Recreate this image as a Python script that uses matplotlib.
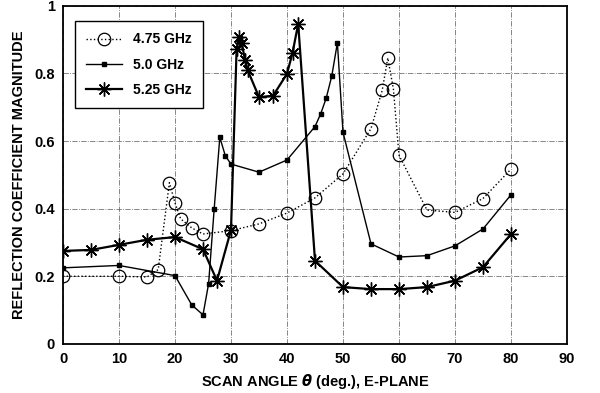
import matplotlib
matplotlib.use('Agg')
import matplotlib.pyplot as plt

# valeurs
ang_475 = [0, 10, 15, 17, 19, 20, 21, 23, 25, 30, 35, 40, 45, 50, 55, 57, 58, 59, 60, 65, 70, 75, 80]
ref_475 = [0.20, 0.20, 0.198, 0.22, 0.477, 0.417, 0.37, 0.343, 0.325, 0.335, 0.355, 0.387, 0.432,
           0.503, 0.637, 0.75, 0.846, 0.754, 0.558, 0.396, 0.389, 0.43, 0.517]

ang_50 = [0, 10, 20, 23, 25, 26, 27, 28, 29, 30, 35, 40, 45, 46, 47, 48, 49, 50, 55, 60, 65, 70, 75, 80]
ref_50 = [0.225, 0.232, 0.202, 0.115, 0.086, 0.178, 0.40, 0.611, 0.556, 0.532, 0.508, 0.544, 0.643,
          0.68, 0.727, 0.793, 0.891, 0.626, 0.296, 0.257, 0.261, 0.29, 0.34, 0.441]

ang_525 = [0, 5, 10, 15, 20, 25, 27.5, 30, 31, 31.4, 31.9, 32.5, 33, 35, 37.5, 40, 41, 42, 45,
           50, 55, 60, 65, 70, 75, 80]
ref_525 = [0.275, 0.278, 0.293, 0.308, 0.316, 0.28, 0.187, 0.337, 0.872, 0.907, 0.891, 0.84, 0.809,
           0.73, 0.734, 0.799, 0.862, 0.947, 0.246, 0.168, 0.162, 0.162, 0.168, 0.187, 0.227, 0.325]

plt.rcParams['font.family'] = ['Liberation Sans', 'DejaVu Sans']
plt.rcParams['font.weight'] = 'bold'

fig = plt.figure(figsize=(6, 3.93), dpi=100)
ax = fig.add_axes([0.105, 0.125, 0.84, 0.86])

ax.plot(ang_475, ref_475, linestyle=':', color='black', linewidth=1.0,
        marker='o', markersize=9, markerfacecolor='none', markeredgewidth=0.9, label='4.75 GHz')
ax.plot(ang_50, ref_50, linestyle='-', color='black', linewidth=1.0,
        marker='s', markersize=2.3, label='5.0 GHz')
ax.plot(ang_525, ref_525, linestyle='-', color='black', linewidth=1.6,
        marker=(8, 2, 0), markersize=10, markeredgewidth=1.0, label='5.25 GHz')

ax.set_xlim(0, 90)
ax.set_ylim(0, 1)
ax.set_xticks(range(0, 91, 10))
ax.set_yticks([0, 0.2, 0.4, 0.6, 0.8, 1])
ax.set_yticklabels(['0', '0.2', '0.4', '0.6', '0.8', '1'])
ax.tick_params(length=0, labelsize=10.5, pad=6)
for lab in ax.get_xticklabels() + ax.get_yticklabels():
    lab.set_fontweight('bold')

ax.grid(True, linestyle='-.', linewidth=0.6, color='0.45')
for sp in ax.spines.values():
    sp.set_linewidth(1.3)

ax.set_xlabel(r'SCAN ANGLE $\theta$ (deg.), E-PLANE', fontsize=10.5, fontweight='bold', labelpad=4)
ax.set_ylabel('REFLECTION COEFFICIENT MAGNITUDE', fontsize=10.5, fontweight='bold', labelpad=6)

leg = ax.legend(loc='upper left', bbox_to_anchor=(0.01, 0.975), fancybox=False, edgecolor='black',
                framealpha=1, fontsize=10, handlelength=2.6, borderpad=0.8, labelspacing=0.8)
leg.get_frame().set_linewidth(1.0)
for t in leg.get_texts():
    t.set_fontweight('bold')

fig.savefig('out.png', dpi=100)
